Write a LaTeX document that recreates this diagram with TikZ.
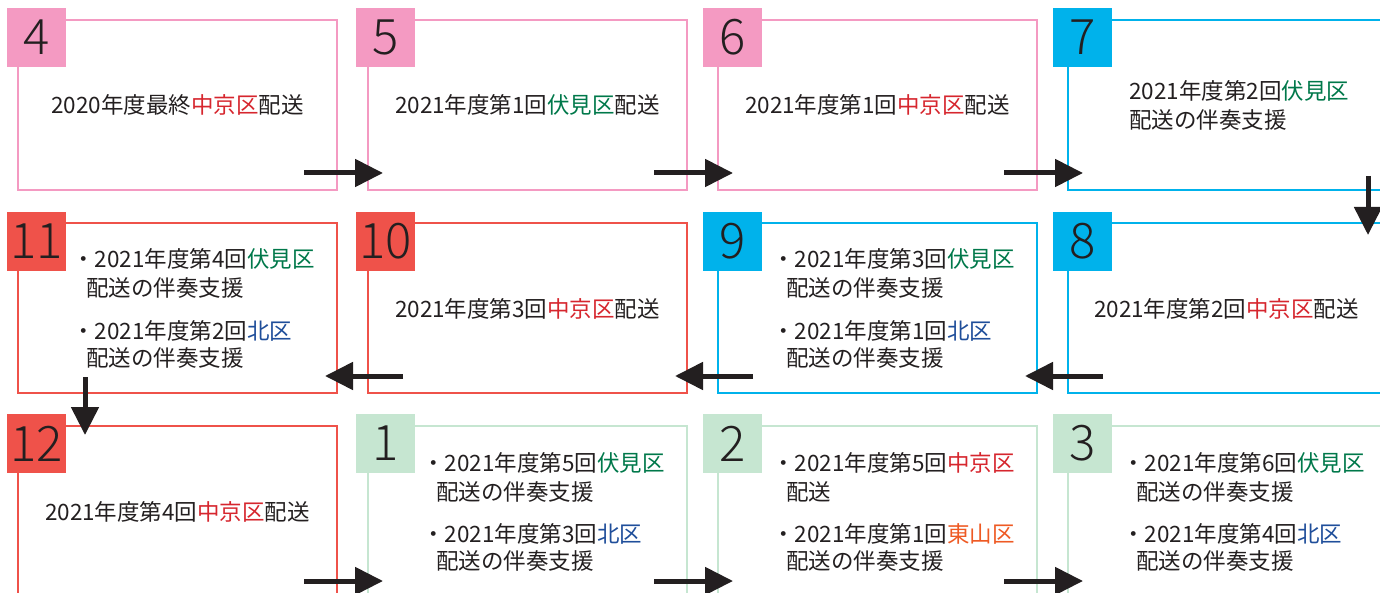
\documentclass[tikz,border=0pt]{standalone}
\usepackage{fontspec}
\setmainfont{Noto Sans CJK JP}
\IfFontExistsTF{Noto Sans CJK JP Light}
  {\newfontfamily\numfont{Noto Sans CJK JP Light}}
  {\IfFontExistsTF{Noto Sans CJK JP DemiLight}
    {\newfontfamily\numfont{Noto Sans CJK JP DemiLight}}
    {\newfontfamily\numfont{Noto Sans CJK JP}}}
\usetikzlibrary{arrows.meta}
\definecolor{ink}{HTML}{231F20}
\definecolor{pk}{HTML}{F49AC2}
\definecolor{bl}{HTML}{00B2EB}
\definecolor{rd}{HTML}{EF524A}
\definecolor{gn}{HTML}{C6E6D1}
\definecolor{tred}{HTML}{D6262E}
\definecolor{tgrn}{HTML}{00784A}
\definecolor{tblu}{HTML}{1F4E9A}
\definecolor{torg}{HTML}{EE5A24}
\newcommand{\Rk}[1]{\textcolor{tred}{#1}}
\newcommand{\Gk}[1]{\textcolor{tgrn}{#1}}
\newcommand{\Bk}[1]{\textcolor{tblu}{#1}}
\newcommand{\Ok}[1]{\textcolor{torg}{#1}}
\tikzset{
  box/.style={draw=#1, line width=2pt, minimum width=319pt, minimum height=170pt,
    inner sep=0pt, outer sep=0pt, anchor=north west},
  lab/.style={fill=#1, minimum size=59pt, inner sep=0pt, outer sep=0pt,
    anchor=north west, text=ink, font=\numfont\fontsize{49}{49}\selectfont},
  ctext/.style={inner sep=0pt, anchor=base, text=ink},
  ltext/.style={inner sep=0pt, anchor=base west, text=ink},
  arr/.style={draw=ink, line width=5pt, -{Triangle[length=28pt,width=27pt]}}
}
\begin{document}
\begin{tikzpicture}[x=1pt,y=-1pt,font=\fontsize{22.5}{27}\selectfont]
\useasboundingbox (0,0) rectangle (1380,593);
\clip (0,0) rectangle (1380,593);
% boxes row 1
\node[box=pk] (b4) at (18,20) {};
\node[box=pk] (b5) at (368,20) {};
\node[box=pk] (b6) at (718,20) {};
\node[box=bl] (b7) at (1068,20) {};
% row 2
\node[box=rd] (b11) at (18,223) {};
\node[box=rd] (b10) at (368,223) {};
\node[box=bl] (b9) at (718,223) {};
\node[box=bl] (b8) at (1068,223) {};
% row 3
\node[box=rd] (b12) at (18,426) {};
\node[box=gn] (b1) at (368,426) {};
\node[box=gn] (b2) at (718,426) {};
\node[box=gn] (b3) at (1068,426) {};
% labels
\node[lab=pk] (l4) at (7,8) {4};
\node[lab=pk] (l5) at (356,8) {5};
\node[lab=pk] (l6) at (703,8) {6};
\node[lab=bl] (l7) at (1053,8) {7};
\node[lab=rd] (l11) at (7,212) {11};
\node[lab=rd] (l10) at (356,212) {10};
\node[lab=bl] (l9) at (703,212) {9};
\node[lab=bl] (l8) at (1053,212) {8};
\node[lab=rd] (l12) at (7,414) {12};
\node[lab=gn] (l1) at (356,414) {1};
\node[lab=gn] (l2) at (703,414) {2};
\node[lab=gn] (l3) at (1053,414) {3};
% single-line texts
\node[ctext] (t4) at ([shift={(0,94)}]b4.north) {2020年度最終\Rk{中京区}配送};
\node[ctext] (t5) at ([shift={(0,94)}]b5.north) {2021年度第1回\Gk{伏見区}配送};
\node[ctext] (t6) at ([shift={(0,94)}]b6.north) {2021年度第1回\Rk{中京区}配送};
\node[ctext] (t10) at ([shift={(0,94)}]b10.north) {2021年度第3回\Rk{中京区}配送};
\node[ctext] (t8) at ([shift={(-1,94)}]b8.north) {2021年度第2回\Rk{中京区}配送};
\node[ctext] (t12) at ([shift={(0,94)}]b12.north) {2021年度第4回\Rk{中京区}配送};
% box 7
\node[ltext] (t7a) at ([shift={(61,80)}]b7.north west) {2021年度第2回\Gk{伏見区}};
\node[ltext] (t7b) at ([shift={(61,109)}]b7.north west) {配送の伴奏支援};
% four-line boxes
\foreach \b/\a/\bb/\c/\d in {
  b11/2021年度第4回\Gk{伏見区}/配送の伴奏支援/2021年度第2回\Bk{北区}/配送の伴奏支援,
  b9/2021年度第3回\Gk{伏見区}/配送の伴奏支援/2021年度第1回\Bk{北区}/配送の伴奏支援,
  b1/2021年度第5回\Gk{伏見区}/配送の伴奏支援/2021年度第3回\Bk{北区}/配送の伴奏支援,
  b2/2021年度第5回\Rk{中京区}/配送/2021年度第1回\Ok{東山区}/配送の伴奏支援,
  b3/2021年度第6回\Gk{伏見区}/配送の伴奏支援/2021年度第4回\Bk{北区}/配送の伴奏支援}{
  \node[ltext] (\b-1) at ([shift={(54,45)}]\b.north west) {・\a};
  \node[ltext] (\b-2) at ([shift={(68,74)}]\b.north west) {\bb};
  \node[ltext] (\b-3) at ([shift={(54,116)}]\b.north west) {・\c};
  \node[ltext] (\b-4) at ([shift={(68,143)}]\b.north west) {\d};
}
% arrows row 1
\draw[arr] ([shift={(-33,-17)}]b4.south east) -- ([shift={(15,-17)}]b5.south west);
\draw[arr] ([shift={(-33,-17)}]b5.south east) -- ([shift={(15,-17)}]b6.south west);
\draw[arr] ([shift={(-33,-17)}]b6.south east) -- ([shift={(15,-17)}]b7.south west);
% down 7 -> 8
\draw[arr] ([shift={(300,-14)}]b7.south west) -- ([shift={(300,12)}]b8.north west);
% row 2 leftwards
\draw[arr] ([shift={(35,-17)}]b8.south west) -- ([shift={(-12,-17)}]b9.south east);
\draw[arr] ([shift={(35,-17)}]b9.south west) -- ([shift={(-12,-17)}]b10.south east);
\draw[arr] ([shift={(35,-17)}]b10.south west) -- ([shift={(-12,-17)}]b11.south east);
% down 11 -> 12
\draw[arr] ([shift={(67,-16)}]b11.south west) -- ([shift={(67,9)}]b12.north west);
% row 3
\draw[arr] ([shift={(-33,155)}]b12.north east) -- ([shift={(15,155)}]b1.north west);
\draw[arr] ([shift={(-33,155)}]b1.north east) -- ([shift={(15,155)}]b2.north west);
\draw[arr] ([shift={(-33,155)}]b2.north east) -- ([shift={(15,155)}]b3.north west);
\end{tikzpicture}
\end{document}
